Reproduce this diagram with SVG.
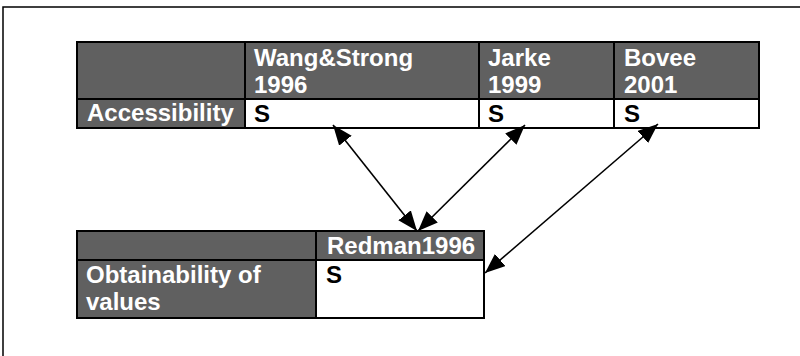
<svg xmlns="http://www.w3.org/2000/svg" width="800" height="356" viewBox="0 0 800 356">
<style>
.hdr{fill:#606060;}
.cell{fill:#ffffff;}
.grid{fill:none;stroke:#000;stroke-width:2;}
.wt{font-family:"Liberation Sans",Arial,sans-serif;font-weight:bold;font-size:24px;fill:#ffffff;}
.bt{font-family:"Liberation Sans",Arial,sans-serif;font-weight:bold;font-size:24px;fill:#000000;}
.conn{stroke:#000;stroke-width:1.6;fill:none;marker-start:url(#ah);marker-end:url(#ah);}
</style>
<defs>
<marker id="ah" markerUnits="userSpaceOnUse" markerWidth="21" markerHeight="16" refX="20" refY="8" orient="auto-start-reverse">
<path d="M0,0 L20,8 L0,16 z" fill="#000"/>
</marker>
</defs>
<rect width="800" height="356" fill="#fff"/>
<path d="M3,356 V7 H800" fill="none" stroke="#000" stroke-width="1.5"/>

<g id="table-top">
<rect class="hdr" x="77" y="42" width="682" height="57"/>
<rect class="hdr" x="77" y="99" width="168" height="29"/>
<rect class="cell" x="245" y="99" width="514" height="29"/>
<rect class="grid" x="77" y="42" width="682" height="86"/>
<line class="grid" x1="77" y1="99" x2="759" y2="99"/>
<line class="grid" x1="245" y1="42" x2="245" y2="128"/>
<line class="grid" x1="479" y1="42" x2="479" y2="128"/>
<line class="grid" x1="614" y1="42" x2="614" y2="128"/>
<text class="wt" x="254" y="66">Wang&amp;Strong</text>
<text class="wt" x="254" y="93">1996</text>
<text class="wt" x="488" y="66">Jarke</text>
<text class="wt" x="488" y="93">1999</text>
<text class="wt" x="624" y="66">Bovee</text>
<text class="wt" x="624" y="93">2001</text>
<text class="wt" x="87" y="121">Accessibility</text>
<text class="bt" x="254" y="122">S</text>
<text class="bt" x="488" y="122">S</text>
<text class="bt" x="624" y="122">S</text>
</g>

<g id="table-bottom">
<rect class="hdr" x="77" y="231" width="407" height="29"/>
<rect class="hdr" x="77" y="260" width="239" height="58"/>
<rect class="cell" x="316" y="260" width="168" height="58"/>
<rect class="grid" x="77" y="231" width="407" height="87"/>
<line class="grid" x1="77" y1="260" x2="484" y2="260"/>
<line class="grid" x1="316" y1="231" x2="316" y2="318"/>
<text class="wt" x="327" y="254">Redman1996</text>
<text class="wt" x="86" y="283">Obtainability of</text>
<text class="wt" x="86" y="310">values</text>
<text class="bt" x="326" y="283">S</text>
</g>

<g id="connectors">
<line class="conn" x1="333" y1="125" x2="417" y2="231"/>
<line class="conn" x1="525" y1="125" x2="418" y2="231"/>
<line class="conn" x1="658" y1="124" x2="485" y2="273"/>
</g>
</svg>
